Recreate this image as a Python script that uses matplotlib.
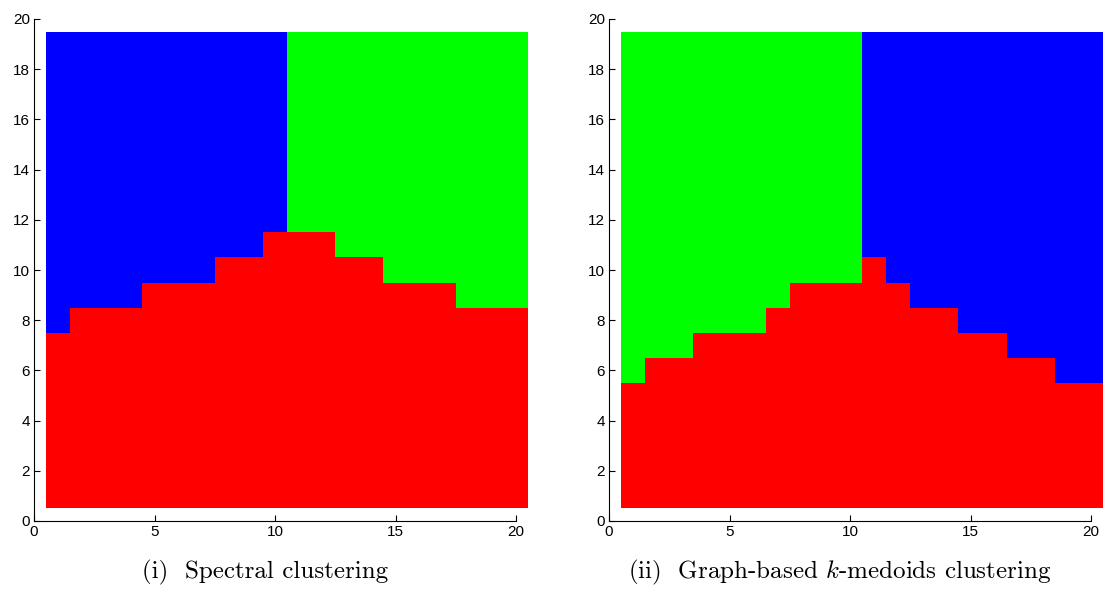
import numpy as np
import matplotlib
matplotlib.use("Agg")
import matplotlib.pyplot as plt
from matplotlib.colors import ListedColormap

plt.rcParams['mathtext.fontset'] = 'cm'

# grid: 20 columns (x = 1..20), 19 rows (y = 1..19)
n_cols = 20
n_rows = 19

# top row of the red cluster in each column, and the last column of the left cluster
red_top_spectral = [7, 8, 8, 8, 9, 9, 9, 10, 10, 11, 11, 11, 10, 10, 9, 9, 9, 8, 8, 8]
split_spectral = 10          # columns 1..10 blue, 11..20 green
red_top_kmedoids = [5, 6, 6, 7, 7, 7, 8, 9, 9, 9, 10, 9, 8, 8, 7, 7, 6, 6, 5, 5]
split_kmedoids = 10          # columns 1..10 green, 11..20 blue

captions = ["(i)  Spectral clustering", "(ii)  Graph-based $k$-medoids clustering"]

# label codes: 0 red, 1 blue, 2 green
cmap = ListedColormap([(1, 0, 0), (0, 0, 1), (0, 1, 0)])


def build_labels(red_top, split, left_lab, right_lab):
    lab = np.zeros((n_rows, n_cols))
    for c in range(n_cols):
        for r in range(n_rows):
            y = r + 1
            if y <= red_top[c]:
                lab[r, c] = 0
            elif c + 1 <= split:
                lab[r, c] = left_lab
            else:
                lab[r, c] = right_lab
    return lab


panels = [build_labels(red_top_spectral, split_spectral, 1, 2),
          build_labels(red_top_kmedoids, split_kmedoids, 2, 1)]

fig = plt.figure(figsize=(11.04, 5.89), dpi=100)
ax_w = 482 / 1104
ax_h = 502 / 589
bottom = 68 / 589
lefts = [34 / 1104, 609 / 1104]
cap_x = [265 / 1104, 840 / 1104]

xe = np.arange(0.5, n_cols + 1)
ye = np.arange(0.5, n_rows + 1)

for i in range(2):
    ax = fig.add_axes([lefts[i], bottom, ax_w, ax_h])
    m = ax.pcolormesh(xe, ye, panels[i], cmap=cmap, vmin=-0.5, vmax=2.5)
    m.set_clip_on(False)
    ax.set_xlim(0, 20)
    ax.set_ylim(0, 20)
    ax.set_xticks(np.arange(0, 21, 5))
    ax.set_yticks(np.arange(0, 21, 2))
    ax.spines['top'].set_visible(False)
    ax.spines['right'].set_visible(False)
    ax.tick_params(direction='in', length=4, width=0.8, labelsize=11, pad=3)
    for lbl in ax.get_xticklabels() + ax.get_yticklabels():
        lbl.set_fontfamily('Liberation Sans')
    fig.text(cap_x[i], 1 - 572 / 589, captions[i], ha='center', va='center',
             fontsize=18, fontfamily='cmr10')

fig.savefig("out.png", dpi=100)
